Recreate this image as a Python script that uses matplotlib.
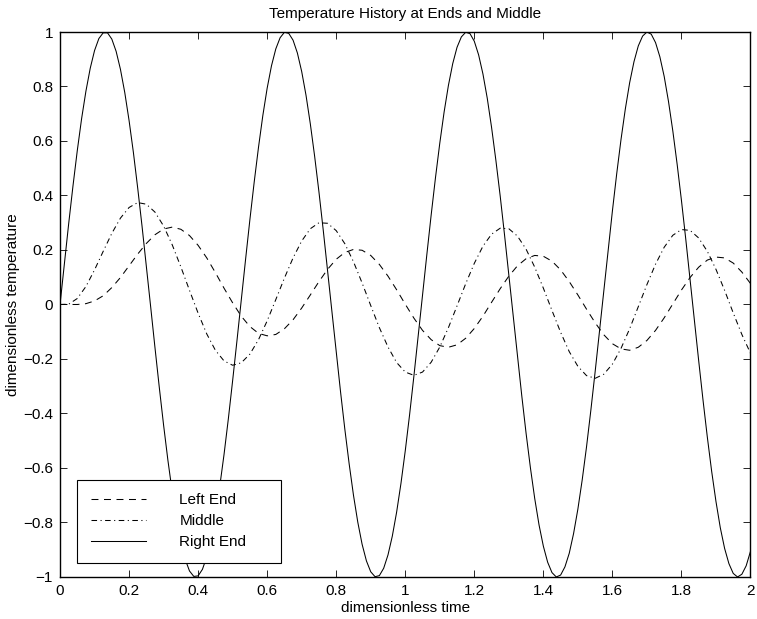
import numpy as np
import matplotlib
matplotlib.use("Agg")
import matplotlib.pyplot as plt

plt.rcParams["font.family"] = ["Liberation Sans", "DejaVu Sans"]
plt.rcParams["lines.scale_dashes"] = False

# sample times (dimensionless)
t_fine = np.linspace(0, 2, 161)   # right end, step 0.0125
t_coarse = np.linspace(0, 2, 81)  # left end and middle, step 0.025

right_end = [
    0.000, 0.149, 0.296, 0.435, 0.565, 0.682, 0.783, 0.867, 0.932, 0.976,
    0.997, 0.997, 0.974, 0.929, 0.863, 0.778, 0.675, 0.558, 0.427, 0.288,
    0.141, -0.008, -0.158, -0.304, -0.443, -0.572, -0.688, -0.789, -0.872, -0.935,
    -0.978, -0.998, -0.996, -0.972, -0.926, -0.859, -0.773, -0.669, -0.551, -0.420,
    -0.279, -0.133, 0.017, 0.166, 0.312, 0.450, 0.578, 0.694, 0.794, 0.876,
    0.938, 0.979, 0.999, 0.995, 0.970, 0.923, 0.855, 0.768, 0.663, 0.544,
    0.413, 0.272, 0.125, -0.025, -0.174, -0.320, -0.458, -0.585, -0.700, -0.799,
    -0.880, -0.941, -0.981, -0.999, -0.995, -0.968, -0.919, -0.850, -0.762, -0.657,
    -0.537, -0.405, -0.263, -0.116, 0.034, 0.183, 0.328, 0.465, 0.592, 0.706,
    0.804, 0.884, 0.944, 0.982, 0.999, 0.994, 0.966, 0.916, 0.846, 0.757,
    0.650, 0.529, 0.398, 0.256, 0.108, -0.042, -0.191, -0.335, -0.473, -0.599,
    -0.712, -0.809, -0.887, -0.946, -0.984, -1.000, -0.993, -0.963, -0.913, -0.841,
    -0.751, -0.644, -0.523, -0.389, -0.247, -0.099, 0.050, 0.199, 0.343, 0.480,
    0.606, 0.718, 0.814, 0.891, 0.949, 0.985, 1.000, 0.992, 0.961, 0.909,
    0.837, 0.745, 0.637, 0.515, 0.382, 0.240, 0.091, -0.059, -0.207, -0.351,
    -0.487, -0.612, -0.723, -0.819, -0.895, -0.951, -0.987, -1.000, -0.990, -0.959,
    -0.906,
]

left_end = [
    0.000, 0.000, 0.000, 0.003, 0.013, 0.032, 0.062, 0.099, 0.142, 0.185,
    0.224, 0.256, 0.277, 0.284, 0.276, 0.253, 0.217, 0.171, 0.117, 0.060,
    0.006, -0.043, -0.081, -0.106, -0.115, -0.110, -0.089, -0.056, -0.013, 0.035,
    0.084, 0.129, 0.166, 0.191, 0.202, 0.199, 0.180, 0.147, 0.104, 0.054,
    0.001, -0.050, -0.095, -0.129, -0.151, -0.157, -0.148, -0.124, -0.088, -0.043,
    0.008, 0.058, 0.104, 0.142, 0.168, 0.180, 0.177, 0.159, 0.127, 0.084,
    0.035, -0.017, -0.067, -0.111, -0.144, -0.163, -0.168, -0.157, -0.132, -0.095,
    -0.049, 0.002, 0.053, 0.099, 0.137, 0.163, 0.174, 0.171, 0.152, 0.119,
    0.077,
]

middle = [
    0.000, 0.001, 0.022, 0.066, 0.127, 0.195, 0.261, 0.317, 0.356, 0.374,
    0.368, 0.339, 0.288, 0.219, 0.138, 0.052, -0.032, -0.108, -0.168, -0.207,
    -0.223, -0.214, -0.182, -0.129, -0.060, 0.018, 0.097, 0.171, 0.233, 0.278,
    0.300, 0.298, 0.271, 0.223, 0.157, 0.079, -0.004, -0.085, -0.156, -0.213,
    -0.248, -0.260, -0.248, -0.212, -0.156, -0.085, -0.005, 0.076, 0.151, 0.214,
    0.258, 0.280, 0.278, 0.251, 0.203, 0.137, 0.060, -0.022, -0.102, -0.173,
    -0.227, -0.261, -0.271, -0.256, -0.219, -0.161, -0.089, -0.008, 0.073, 0.148,
    0.210, 0.254, 0.275, 0.272, 0.244, 0.195, 0.129, 0.052, -0.031, -0.110,
    -0.179,
]

xticks = [0, 0.2, 0.4, 0.6, 0.8, 1, 1.2, 1.4, 1.6, 1.8, 2]
xticklabels = ["0", "0.2", "0.4", "0.6", "0.8", "1", "1.2", "1.4", "1.6", "1.8", "2"]
yticks = [-1, -0.8, -0.6, -0.4, -0.2, 0, 0.2, 0.4, 0.6, 0.8, 1]
yticklabels = ["\u22121", "\u22120.8", "\u22120.6", "\u22120.4", "\u22120.2", "0",
               "0.2", "0.4", "0.6", "0.8", "1"]

fig = plt.figure(figsize=(7.57, 6.19), dpi=100)
ax = fig.add_axes([0.0793, 0.0679, 0.9121, 0.8804])

lw = 0.75
ax.plot(t_coarse, left_end, color="black", lw=lw, linestyle=(0, (5, 4)), label="Left End")
ax.plot(t_coarse, middle, color="black", lw=lw, linestyle=(0, (4, 2.5, 0.8, 2.5)), label="Middle")
ax.plot(t_fine, right_end, color="black", lw=lw, linestyle="-", label="Right End")

ax.set_xlim(0, 2)
ax.set_ylim(-1, 1)
ax.set_xticks(xticks)
ax.set_xticklabels(xticklabels)
ax.set_yticks(yticks)
ax.set_yticklabels(yticklabels)
ax.tick_params(direction="in", top=True, right=True, length=5, width=0.6,
               labelsize=11, pad=5)
for sp in ax.spines.values():
    sp.set_linewidth(1.0)

ax.set_title("Temperature History at Ends and Middle", fontsize=11, pad=10)
ax.set_xlabel("dimensionless time", fontsize=11, labelpad=2)
ax.set_ylabel("dimensionless temperature", fontsize=11, labelpad=2)

leg = ax.legend(loc="lower left", bbox_to_anchor=(0.0246, 0.0257, 0.2957, 0.156),
                mode="expand", borderaxespad=0, fontsize=11, handlelength=3.6,
                handletextpad=2.2, borderpad=0.9, labelspacing=0.45,
                fancybox=False, framealpha=1, edgecolor="black")
leg.get_frame().set_linewidth(0.8)

fig.savefig("out.png", dpi=100)
